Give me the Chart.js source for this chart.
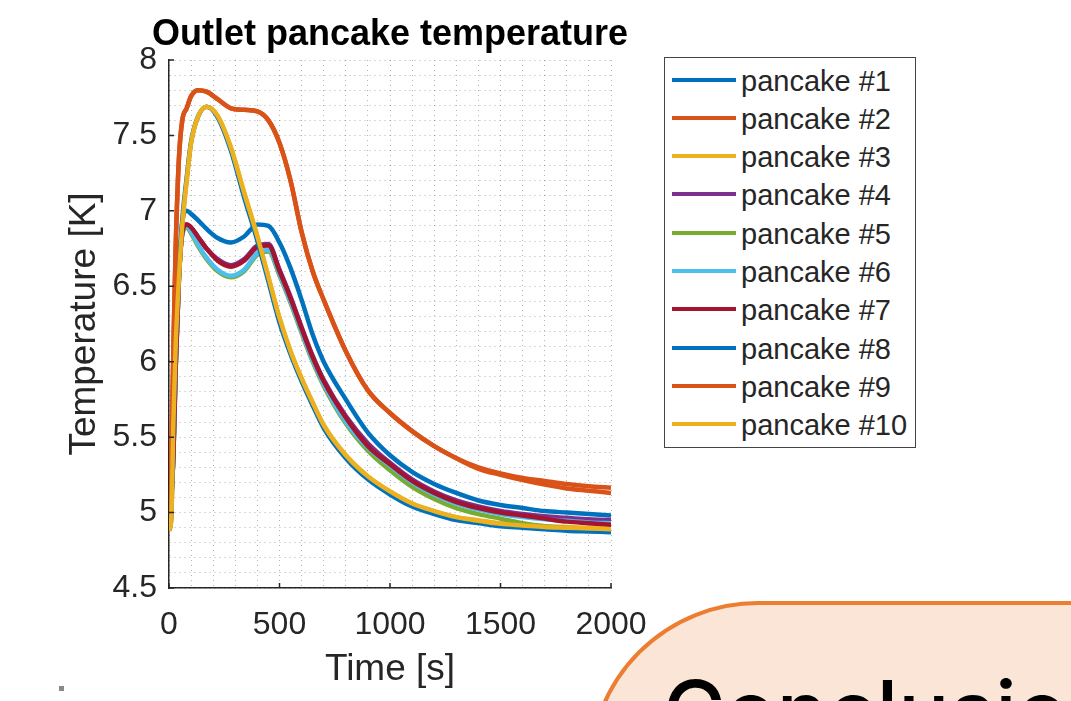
<!DOCTYPE html>
<html>
<head>
<meta charset="utf-8">
<script src="https://cdn.jsdelivr.net/npm/chart.js@4.4.1/dist/chart.umd.min.js"></script>
<style>
  html, body { margin: 0; padding: 0; background: #fff; overflow: hidden; }
  body { width: 1071px; height: 701px; position: relative; font-family: 'Liberation Sans', Arial, sans-serif; }
  #plot { position: absolute; left: 0; top: 0; }
  #title { position: absolute; left: 140px; top: 15px; width: 500px; text-align: center; font-size: 36px; line-height: 36px; font-weight: bold; color: #000; white-space: nowrap; }
  #legend { position: absolute; left: 664px; top: 57px; width: 252px; height: 391px; box-sizing: border-box; border: 1.5px solid #444; background: #fff; }
  .entry { position: absolute; left: 0; width: 100%; height: 38px; line-height: 38px; font-size: 29px; color: #262626; white-space: nowrap; }
  .entry i { position: absolute; left: 7px; top: 17px; width: 64px; height: 4px; }
  .entry span { position: absolute; left: 76px; top: 1px; }
  #summary { position: absolute; left: 588px; top: 601px; width: 700px; height: 400px; box-sizing: border-box; border: 4px solid #ED7D31; border-radius: 170px; background: #FBE5D6; overflow: hidden; }
  #summary div { position: absolute; left: 71px; top: 64px; font-family: Inter, 'Noto Sans', sans-serif; font-size: 85px; line-height: 85px; font-weight: 500; color: #000; white-space: nowrap; }
  #speck { position: absolute; left: 59px; top: 686px; width: 5px; height: 5px; background: #8a8a80; }
</style>
</head>
<body>
<canvas id="plot" width="671" height="701"></canvas>
<div id="title">Outlet pancake temperature</div>
<div id="legend"></div>
<div id="summary"><div>Conclusions</div></div>
<div id="speck"></div>
<script>
// time axis samples [s]
const times = [0, 10, 20, 30, 45, 60, 80, 100, 130, 170, 220, 280, 340, 400, 450, 500, 550, 600, 650, 700,
               800, 900, 1000, 1100, 1200, 1300, 1400, 1500, 1600, 1700, 1800, 1900, 2000];

// outlet temperature of each pancake [K]
const pancake1  = [4.90, 5.10, 5.40, 6.00, 6.60, 6.92, 7.00, 6.98, 6.94, 6.88, 6.82, 6.79, 6.83, 6.91, 6.90, 6.79, 6.62, 6.41, 6.18, 6.00,
                   5.75, 5.53, 5.38, 5.27, 5.19, 5.13, 5.08, 5.05, 5.03, 5.01, 5.00, 4.99, 4.98];
const pancake2  = [4.90, 5.35, 6.10, 6.75, 7.35, 7.60, 7.68, 7.76, 7.80, 7.79, 7.74, 7.68, 7.67, 7.66, 7.60, 7.45, 7.20, 6.86, 6.60, 6.41,
                   6.07, 5.81, 5.66, 5.54, 5.44, 5.36, 5.30, 5.26, 5.23, 5.21, 5.19, 5.175, 5.165];
const pancake3  = [4.88, 4.95, 5.60, 6.10, 6.55, 6.90, 7.20, 7.45, 7.62, 7.69, 7.63, 7.42, 7.12, 6.83, 6.56, 6.29, 6.07, 5.89, 5.73, 5.58,
                   5.38, 5.24, 5.14, 5.06, 5.01, 4.97, 4.95, 4.93, 4.92, 4.91, 4.905, 4.90, 4.90];
const pancake4  = [4.90, 5.08, 5.38, 5.95, 6.55, 6.85, 6.91, 6.89, 6.83, 6.75, 6.68, 6.64, 6.68, 6.77, 6.78, 6.61, 6.43, 6.23, 6.04, 5.88,
                   5.64, 5.46, 5.33, 5.22, 5.14, 5.08, 5.04, 5.01, 4.99, 4.975, 4.965, 4.955, 4.95];
const pancake5  = [4.90, 5.08, 5.38, 5.95, 6.55, 6.84, 6.89, 6.85, 6.77, 6.68, 6.60, 6.56, 6.60, 6.71, 6.73, 6.57, 6.39, 6.19, 6.00, 5.84,
                   5.59, 5.41, 5.28, 5.17, 5.09, 5.03, 4.99, 4.96, 4.93, 4.91, 4.90, 4.89, 4.88];
const pancake6  = [4.90, 5.08, 5.38, 5.95, 6.55, 6.85, 6.90, 6.86, 6.78, 6.69, 6.61, 6.57, 6.61, 6.72, 6.74, 6.58, 6.40, 6.20, 6.01, 5.85,
                   5.60, 5.43, 5.31, 5.20, 5.12, 5.06, 5.02, 4.99, 4.97, 4.955, 4.945, 4.935, 4.93];
const pancake7  = [4.90, 5.08, 5.38, 5.95, 6.55, 6.85, 6.91, 6.89, 6.83, 6.75, 6.67, 6.63, 6.67, 6.76, 6.77, 6.60, 6.42, 6.22, 6.03, 5.87,
                   5.63, 5.44, 5.32, 5.21, 5.13, 5.07, 5.03, 5.00, 4.98, 4.96, 4.94, 4.93, 4.92];
const pancake8  = [4.88, 4.97, 5.65, 6.15, 6.60, 6.94, 7.22, 7.46, 7.62, 7.69, 7.62, 7.40, 7.09, 6.80, 6.53, 6.26, 6.05, 5.87, 5.71, 5.56,
                   5.36, 5.22, 5.12, 5.04, 4.99, 4.95, 4.93, 4.91, 4.90, 4.89, 4.88, 4.875, 4.87];
const pancake9  = [4.90, 5.35, 6.10, 6.75, 7.35, 7.60, 7.68, 7.76, 7.80, 7.79, 7.74, 7.68, 7.67, 7.66, 7.60, 7.45, 7.20, 6.86, 6.60, 6.41,
                   6.07, 5.81, 5.66, 5.54, 5.44, 5.36, 5.29, 5.25, 5.215, 5.185, 5.16, 5.145, 5.13];
const pancake10 = [4.88, 4.95, 5.60, 6.10, 6.55, 6.90, 7.20, 7.45, 7.62, 7.69, 7.63, 7.42, 7.12, 6.83, 6.56, 6.29, 6.07, 5.89, 5.73, 5.58,
                   5.38, 5.24, 5.14, 5.06, 5.01, 4.97, 4.945, 4.925, 4.915, 4.905, 4.90, 4.895, 4.89];

const labels = ['pancake #1', 'pancake #2', 'pancake #3', 'pancake #4', 'pancake #5',
                'pancake #6', 'pancake #7', 'pancake #8', 'pancake #9', 'pancake #10'];
const series = [pancake1, pancake2, pancake3, pancake4, pancake5, pancake6, pancake7, pancake8, pancake9, pancake10];
const colors = ['#0072BD', '#D95319', '#EDB120', '#7E2F8E', '#77AC30', '#4DBEEE', '#A2142F', '#0072BD', '#D95319', '#EDB120'];

const timeTicks = [0, 500, 1000, 1500, 2000];
const tempTicks = [4.5, 5, 5.5, 6, 6.5, 7, 7.5, 8];

const isTick = (list, v) => list.some(t => Math.abs(t - v) < 1e-6);
const gridColor = 'rgba(0, 0, 0, 0.3)';

Chart.defaults.font.family = "'Liberation Sans', Arial, sans-serif";

// major tick marks point into the plot area
const innerTicks = {
  id: 'innerTicks',
  afterDraw(chart) {
    const {ctx, chartArea: a, scales: {x, y}} = chart;
    ctx.save();
    ctx.strokeStyle = '#262626';
    ctx.lineWidth = 1.5;
    ctx.beginPath();
    timeTicks.forEach(v => {
      const px = x.getPixelForValue(v);
      ctx.moveTo(px, a.bottom);
      ctx.lineTo(px, a.bottom - 5);
    });
    tempTicks.forEach(v => {
      const py = y.getPixelForValue(v);
      ctx.moveTo(a.left, py);
      ctx.lineTo(a.left + 5, py);
    });
    ctx.stroke();
    ctx.restore();
  }
};

const datasets = series.map((vals, i) => ({
  label: labels[i],
  data: vals.map((v, k) => ({x: times[k], y: v})),
  borderColor: colors[i],
  backgroundColor: colors[i],
  borderWidth: 4.5,
  pointRadius: 0,
  cubicInterpolationMode: 'monotone',
  order: series.length - i
}));

new Chart(document.getElementById('plot'), {
  type: 'line',
  data: {datasets},
  plugins: [innerTicks],
  options: {
    responsive: false,
    animation: false,
    layout: {padding: {left: 0, top: 60, right: 60, bottom: 0}},
    plugins: {
      legend: {display: false},
      tooltip: {enabled: false}
    },
    scales: {
      x: {
        type: 'linear',
        min: 0,
        max: 2000,
        afterFit: s => { s.height = 113; },
        ticks: {
          stepSize: 100,
          autoSkip: false,
          maxRotation: 0,
          padding: 18,
          color: '#262626',
          font: {size: 32},
          callback: v => isTick(timeTicks, v) ? String(v) : ''
        },
        grid: {color: gridColor, lineWidth: 1, drawTicks: false},
        border: {display: true, color: '#262626', width: 1.5, dash: [1, 4]},
        title: {display: true, text: 'Time [s]', color: '#262626', font: {size: 37}, padding: {top: 0, bottom: 9}}
      },
      y: {
        type: 'linear',
        min: 4.5,
        max: 8,
        afterFit: s => { s.width = 169; },
        ticks: {
          stepSize: 0.1,
          autoSkip: false,
          padding: 12,
          color: '#262626',
          font: {size: 32},
          callback: v => isTick(tempTicks, v) ? String(+v.toFixed(1)) : ''
        },
        grid: {color: gridColor, lineWidth: 1, drawTicks: false},
        border: {display: true, color: '#262626', width: 1.5, dash: [1, 4]},
        title: {display: true, text: 'Temperature [K]', color: '#262626', font: {size: 37}, padding: {top: 63, bottom: 0}}
      }
    }
  }
});

// legend box to the right of the axes
const legend = document.getElementById('legend');
labels.forEach((name, i) => {
  const row = document.createElement('div');
  row.className = 'entry';
  row.style.top = (2.5 + i * 38.33) + 'px';
  row.innerHTML = '<i style="background:' + colors[i] + '"></i><span>' + name + '</span>';
  legend.appendChild(row);
});
</script>
</body>
</html>
